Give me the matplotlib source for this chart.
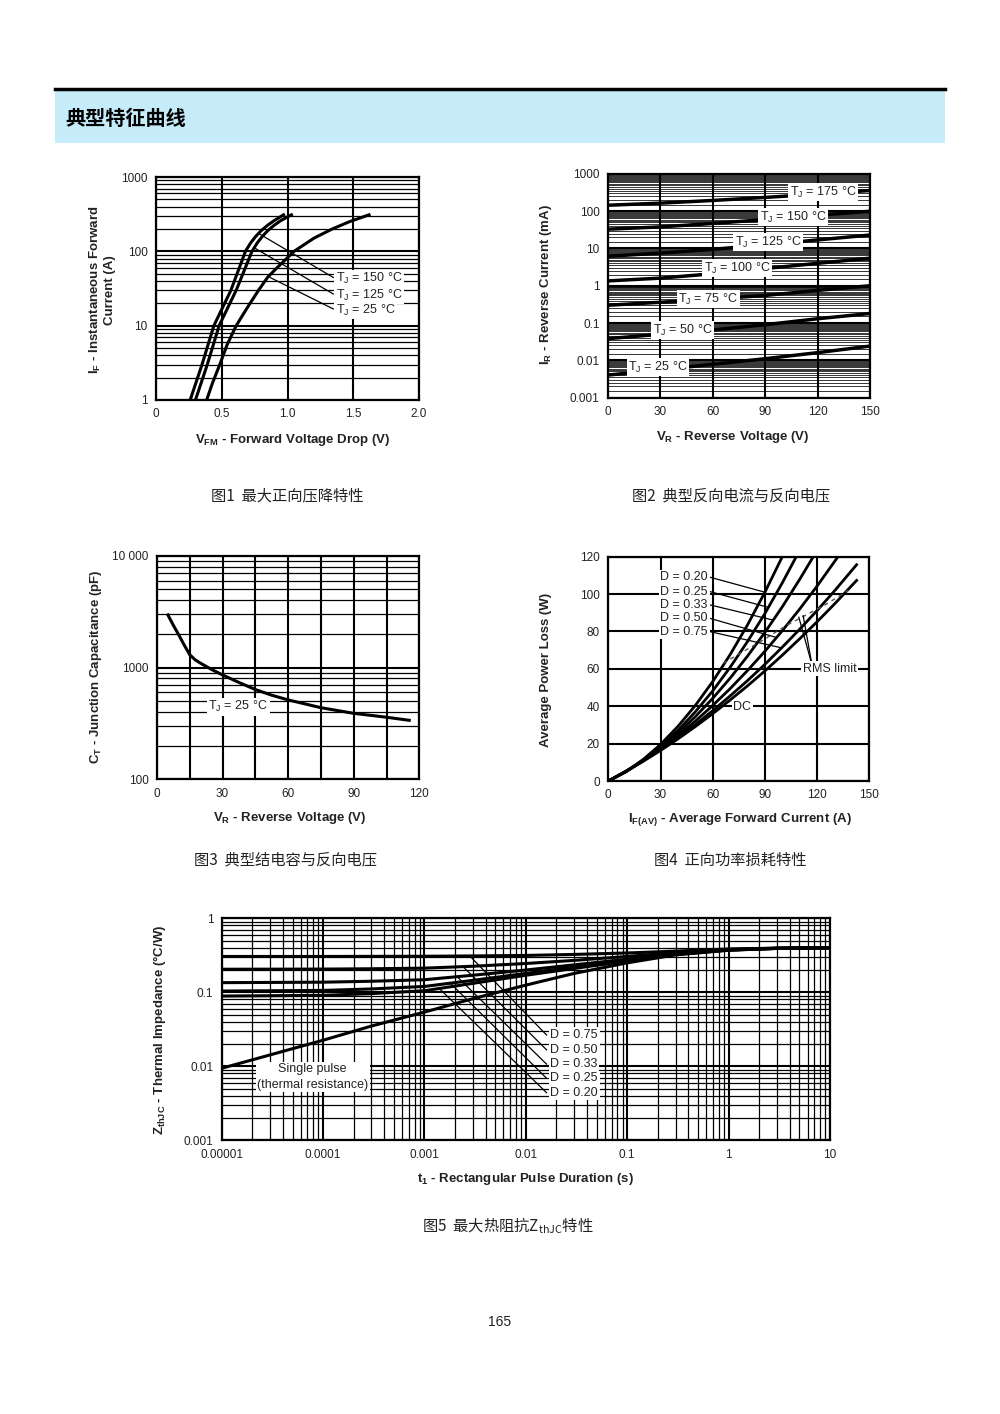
import numpy as np
import matplotlib
matplotlib.use('Agg')
import matplotlib.pyplot as plt
from matplotlib.ticker import LogLocator, MultipleLocator, NullFormatter
from matplotlib.patches import Rectangle
from matplotlib.lines import Line2D

plt.rcParams['font.family'] = ['Liberation Sans', 'DejaVu Sans']
plt.rcParams['mathtext.fontset'] = 'custom'
plt.rcParams['mathtext.rm'] = 'Liberation Sans'
plt.rcParams['mathtext.bf'] = 'Liberation Sans:bold'
plt.rcParams['mathtext.it'] = 'Liberation Sans:italic'
CJK = ['Noto Sans CJK SC', 'DejaVu Sans']

# ---- fig 1: forward voltage drop
if_curr = [1, 3, 10, 30, 100, 130, 160, 190, 225, 260, 310]
vf_150 = [0.26, 0.35, 0.44, 0.57, 0.68, 0.72, 0.76, 0.80, 0.85, 0.90, 0.97]
vf_125 = [0.30, 0.39, 0.48, 0.61, 0.73, 0.77, 0.81, 0.85, 0.90, 0.95, 1.03]
if_25 = [1, 1.7, 3, 5.5, 10, 17, 30, 45, 60, 100, 150, 200, 250, 310]
vf_25 = [0.385, 0.43, 0.485, 0.54, 0.61, 0.69, 0.78, 0.85, 0.92, 1.05, 1.20, 1.34, 1.47, 1.62]

# ---- fig 2: reverse current (mA) vs reverse voltage
vr2 = [0, 30, 60, 90, 120, 150]
ir_curves = {
    '175': [145, 165, 195, 235, 290, 360],
    '150': [33, 38, 47, 60, 78, 100],
    '125': [6.2, 7.5, 9.5, 12.5, 17, 23],
    '100': [1.35, 1.6, 2.1, 2.9, 4.0, 5.5],
    '75': [0.30, 0.36, 0.44, 0.55, 0.75, 1.0],
    '50': [0.038, 0.05, 0.065, 0.09, 0.13, 0.18],
    '25': [0.004, 0.0055, 0.0078, 0.011, 0.016, 0.024],
}
ir_label_pos = {'175': (123, 328), '150': (106, 70), '125': (91.6, 14.9),
                '100': (73.9, 2.97), '75': (57.3, 0.436), '50': (42.9, 0.0644),
                '25': (28.6, 0.00647)}

# ---- fig 3: junction capacitance
vr3 = [5, 7.5, 10, 12.5, 15, 17.5, 20, 25, 30, 37.5, 45, 52.5, 60, 75, 90, 105, 115.4]
ct = [2950, 2380, 1950, 1580, 1300, 1170, 1090, 960, 857, 735, 635, 565, 513, 437, 389, 359, 337]

# ---- fig 4: average power loss
pl_curves = {
    'D = 0.20': ([0, 10, 20, 30, 40, 50, 60, 70, 80, 90, 100],
                 [0, 4.95, 11.5, 19.5, 29.2, 40.4, 53.2, 67.6, 83.5, 101, 120]),
    'D = 0.25': ([0, 10, 20, 30, 40, 50, 60, 70, 80, 90, 100, 108],
                 [0, 4.8, 11.0, 18.4, 27.0, 37.0, 48.2, 60.8, 74.6, 89.6, 106, 120]),
    'D = 0.33': ([0, 10, 20, 30, 40, 50, 60, 70, 80, 90, 100, 110, 117.8],
                 [0, 4.9, 10.85, 17.7, 25.6, 34.4, 44.2, 55.0, 66.8, 79.5, 93.2, 107.9, 120]),
    'D = 0.50': ([0, 10, 20, 30, 40, 50, 60, 70, 80, 90, 100, 110, 120, 132],
                 [0, 5.1, 10.9, 17.3, 24.3, 32.0, 40.4, 49.4, 59.1, 69.4, 80.4, 92.0, 104.3, 120]),
    'D = 0.75': ([0, 10, 20, 30, 40, 50, 60, 70, 80, 90, 100, 110, 120, 130, 142.7],
                 [0, 5.2, 10.8, 16.8, 23.3, 30.2, 37.6, 45.5, 53.7, 62.4, 71.6, 81.2, 91.2, 101.7, 115.7]),
    'DC': ([0, 10, 20, 30, 40, 50, 60, 70, 80, 90, 100, 110, 120, 130, 142.7],
           [0, 5.1, 10.5, 16.3, 22.5, 29.1, 36.0, 43.3, 50.9, 58.9, 67.3, 76.1, 85.2, 94.7, 107.3]),
}
pl_label_y = {'D = 0.20': 109, 'D = 0.25': 101.3, 'D = 0.33': 94.2,
              'D = 0.50': 87, 'D = 0.75': 79.9}
pl_leader_x = {'D = 0.20': 90, 'D = 0.25': 92, 'D = 0.33': 94.8,
               'D = 0.50': 96.7, 'D = 0.75': 99.6}
rms_i = [66, 78, 90, 102, 114, 126, 138]
rms_p = [63, 69.5, 76, 83, 89, 95, 102]

# ---- fig 5: thermal impedance
t5 = [1e-5, 1e-4, 3e-4, 1e-3, 3e-3, 1e-2, 3e-2, 0.1, 0.3, 1, 3, 10]
zth_curves = {
    'D = 0.75': [0.305, 0.305, 0.306, 0.307, 0.31, 0.315, 0.325, 0.34, 0.36, 0.385, 0.395, 0.40],
    'D = 0.50': [0.205, 0.206, 0.208, 0.212, 0.225, 0.245, 0.27, 0.305, 0.345, 0.38, 0.395, 0.40],
    'D = 0.33': [0.135, 0.137, 0.141, 0.148, 0.17, 0.2, 0.235, 0.28, 0.335, 0.375, 0.393, 0.40],
    'D = 0.25': [0.104, 0.106, 0.111, 0.12, 0.145, 0.18, 0.22, 0.27, 0.33, 0.373, 0.392, 0.40],
    'D = 0.20': [0.089, 0.091, 0.096, 0.105, 0.132, 0.17, 0.21, 0.265, 0.325, 0.372, 0.392, 0.40],
    'single': [0.0094, 0.0225, 0.035, 0.054, 0.082, 0.125, 0.18, 0.25, 0.32, 0.37, 0.392, 0.40],
}
zth_leader_t = {'D = 0.75': 0.0028, 'D = 0.50': 0.0024, 'D = 0.33': 0.0021,
                'D = 0.25': 0.0018, 'D = 0.20': 0.0014}
zth_label_y = {'D = 0.75': 0.0265, 'D = 0.50': 0.0167, 'D = 0.33': 0.0107,
               'D = 0.25': 0.0069, 'D = 0.20': 0.0044}

W, H = 1000, 1414
fig = plt.figure(figsize=(10, 14.14), dpi=100)


def px(l, t, r, b):
    return [l / W, 1 - b / H, (r - l) / W, (b - t) / H]


def fx(x, y):
    return x / W, 1 - y / H


def style(ax, minor_lw=0.9, minor_color='black'):
    ax.set_axisbelow(True)
    ax.tick_params(which='both', length=0, labelsize=8.5, labelcolor='#222222', pad=6)
    for s in ax.spines.values():
        s.set_linewidth(1.6)
        s.set_color('black')
    ax.grid(which='major', color='black', lw=1.5)
    ax.grid(which='minor', color=minor_color, lw=minor_lw)


def log_minor(axis, subs=np.arange(2, 10)):
    axis.set_minor_locator(LogLocator(base=10, subs=subs, numticks=40))
    axis.set_minor_formatter(NullFormatter())


lbl = dict(fontsize=9, color='#222222', zorder=6,
           bbox=dict(facecolor='white', edgecolor='none', pad=1.2))
axlab = dict(fontsize=9.5, fontweight='bold', color='#222222')

# header
fig.add_artist(Rectangle(fx(55, 143), 890 / W, 53 / H, transform=fig.transFigure,
                         facecolor='#c6ecf9', edgecolor='none'))
fig.add_artist(Line2D([55 / W, 945 / W], [1 - 88.5 / H] * 2, transform=fig.transFigure,
                      color='black', lw=2.5))
fig.text(*fx(65, 118), '典型特征曲线', family=CJK, fontsize=14.5, fontweight='bold',
         ha='left', va='center', color='black')

# ---------------- chart 1
ax1 = fig.add_axes(px(156, 177, 419, 400))
ax1.set_xlim(0, 2)
ax1.set_ylim(1, 1000)
ax1.set_yscale('log')
log_minor(ax1.yaxis)
ax1.set_xticks([0, 0.5, 1.0, 1.5, 2.0], ['0', '0.5', '1.0', '1.5', '2.0'])
ax1.set_yticks([1, 10, 100, 1000], ['1', '10', '100', '1000'])
style(ax1)
ax1.plot(vf_150, if_curr, color='black', lw=2.2, zorder=4)
ax1.plot(vf_125, if_curr, color='black', lw=2.2, zorder=4)
ax1.plot(vf_25, if_25, color='black', lw=2.2, zorder=4)
for (v0, i0), (v1, i1), txt in [((0.79, 170), (1.348, 44.5), '150'),
                                ((0.753, 110), (1.348, 26.7), '125'),
                                ((0.867, 44.5), (1.348, 16.8), '25')]:
    ax1.plot([v0, v1], [i0, i1], color='black', lw=0.9, zorder=4)
    ax1.text(v1 + 0.02, i1 * 0.96, 'T$_\\mathregular{J}$ = %s °C' % txt, ha='left', va='center', **lbl)
fig.text(*fx(102, 290), 'I$_\\mathbf{F}$ - Instantaneous Forward\nCurrent (A)', rotation=90,
         ha='center', va='center', multialignment='center', **axlab)
fig.text(*fx(293, 440), '$\\mathbf{V_{FM}}$ - Forward Voltage Drop (V)', ha='center', va='center', **axlab)

# ---------------- chart 2
ax2 = fig.add_axes(px(608, 174, 870, 397.5))
ax2.set_xlim(0, 150)
ax2.set_ylim(0.001, 1000)
ax2.set_yscale('log')
log_minor(ax2.yaxis, np.arange(1.5, 10, 0.5))
ax2.set_xticks([0, 30, 60, 90, 120, 150])
ax2.set_yticks([0.001, 0.01, 0.1, 1, 10, 100, 1000],
               ['0.001', '0.01', '0.1', '1', '10', '100', '1000'])
style(ax2, minor_lw=0.55, minor_color='black')
for k, vals in ir_curves.items():
    ax2.plot(vr2, vals, color='black', lw=2.5, zorder=4)
    lx, ly = ir_label_pos[k]
    ax2.text(lx, ly, 'T$_\\mathregular{J}$ = %s °C' % k, ha='center', va='center', **lbl)
fig.text(*fx(546, 285), 'I$_\\mathbf{R}$ - Reverse Current (mA)', rotation=90,
         ha='center', va='center', **axlab)
fig.text(*fx(733, 437), '$\\mathbf{V_R}$ - Reverse Voltage (V)', ha='center', va='center', **axlab)

# ---------------- chart 3
ax3 = fig.add_axes(px(157, 555.7, 419.3, 779.3))
ax3.set_xlim(0, 120)
ax3.set_ylim(100, 10000)
ax3.set_yscale('log')
log_minor(ax3.yaxis)
ax3.set_xticks([0, 30, 60, 90, 120])
ax3.xaxis.set_minor_locator(MultipleLocator(15))
ax3.set_yticks([100, 1000, 10000], ['100', '1000', '10 000'])
style(ax3)
ax3.grid(which='minor', axis='x', color='black', lw=1.5)
ax3.plot(vr3, ct, color='black', lw=2.2, zorder=4)
ax3.text(37.1, 445, 'T$_\\mathregular{J}$ = 25 °C', ha='center', va='center', **lbl)
fig.text(*fx(96, 667), '$\\mathbf{C_T}$ - Junction Capacitance (pF)', rotation=90,
         ha='center', va='center', **axlab)
fig.text(*fx(290, 818), '$\\mathbf{V_R}$ - Reverse Voltage (V)', ha='center', va='center', **axlab)

# ---------------- chart 4
ax4 = fig.add_axes(px(608.3, 556.7, 869.3, 781))
ax4.set_xlim(0, 150)
ax4.set_ylim(0, 120)
ax4.set_xticks([0, 30, 60, 90, 120, 150])
ax4.set_yticks([0, 20, 40, 60, 80, 100, 120])
style(ax4)
for k, (ii, pp) in pl_curves.items():
    ax4.plot(ii, pp, color='black', lw=2, zorder=4)
ax4.plot(rms_i, rms_p, color='#555555', lw=1, ls=(0, (3, 3)), zorder=4)
for k, ly in pl_label_y.items():
    ii, pp = pl_curves[k]
    ex = pl_leader_x[k]
    ax4.plot([58.5, ex], [ly, np.interp(ex, ii, pp)], color='black', lw=0.9, zorder=4)
    ax4.text(30, ly, k, ha='left', va='center', **lbl)
for ex, ey in [(109.5, 87.6), (112, 88.4)]:
    ax4.plot([117, ex], [62.4, ey], color='black', lw=0.9, zorder=4)
ax4.text(127.4, 60, 'RMS limit', ha='center', va='center', **lbl)
ax4.text(77, 39.5, 'DC', ha='center', va='center', **lbl)
fig.text(*fx(546, 670), 'Average Power Loss (W)', rotation=90, ha='center', va='center', **axlab)
fig.text(*fx(740, 820), '$\\mathbf{I_{F(AV)}}$ - Average Forward Current (A)',
         ha='center', va='center', **axlab)

# ---------------- chart 5
ax5 = fig.add_axes(px(221.7, 918.3, 830, 1140.3))
ax5.set_xscale('log')
ax5.set_yscale('log')
ax5.set_xlim(1e-5, 10)
ax5.set_ylim(0.001, 1)
log_minor(ax5.xaxis)
log_minor(ax5.yaxis)
ax5.set_xticks([1e-5, 1e-4, 1e-3, 1e-2, 0.1, 1, 10],
               ['0.00001', '0.0001', '0.001', '0.01', '0.1', '1', '10'])
ax5.set_yticks([0.001, 0.01, 0.1, 1], ['0.001', '0.01', '0.1', '1'])
style(ax5)
for k, vals in zth_curves.items():
    ax5.plot(t5, vals, color='black', lw=2.2, zorder=4)
for k, t0 in zth_leader_t.items():
    z0 = 10 ** np.interp(np.log10(t0), np.log10(t5), np.log10(zth_curves[k]))
    ax5.plot([t0, 0.016], [z0, zth_label_y[k]], color='black', lw=0.9, zorder=4)
    ax5.text(0.0175, zth_label_y[k], k, ha='left', va='center', **lbl)
ax5.text(7.9e-5, 0.00716, 'Single pulse\n(thermal resistance)', ha='center', va='center',
         multialignment='center', linespacing=1.4, **lbl)
fig.text(*fx(160, 1030), '$\\mathbf{Z_{thJC}}$ - Thermal Impedance (°C/W)', rotation=90,
         ha='center', va='center', **axlab)
fig.text(*fx(525, 1179), '$\\mathbf{t_1}$ - Rectangular Pulse Duration (s)', ha='center', va='center', **axlab)

# captions
cap = dict(family=CJK, fontsize=11, ha='center', va='center', color='#222222')
fig.text(*fx(287, 496), '图1  最大正向压降特性', **cap)
fig.text(*fx(731, 496), '图2  典型反向电流与反向电压', **cap)
fig.text(*fx(286, 860), '图3  典型结电容与反向电压', **cap)
fig.text(*fx(730, 860), '图4  正向功率损耗特性', **cap)
fig.text(*fx(508, 1226), '图5  最大热阻抗Z$_\\mathregular{thJC}$特性', **cap)
fig.text(*fx(500, 1322), '165', fontsize=10, ha='center', va='center', color='#222222')

fig.savefig('out.png', dpi=100, facecolor='white')
